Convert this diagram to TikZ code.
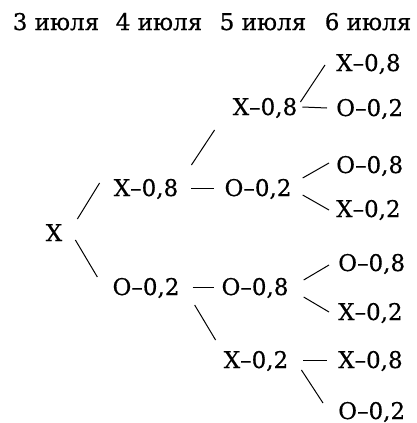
\documentclass[tikz,border=0pt]{standalone}
\usepackage{fontspec}
\setmainfont{DejaVu Serif}[FakeBold=0.5]

\begin{document}
\begin{tikzpicture}[x=1pt,y=-1pt,
  lbl/.style={inner sep=0pt,text height=16pt,text depth=0pt,font=\fontsize{23}{27}\selectfont},
  day/.style={inner sep=0pt,anchor=base,font=\fontsize{23}{27}\selectfont},
  br/.style={line width=1pt}]
\useasboundingbox (0,0) rectangle (417,423);
% days
\node[day] (d3) at (56,30) {3 июля};
\node[day] (d4) at (159,30) {4 июля};
\node[day] (d5) at (263,30) {5 июля};
\node[day] (d6) at (368,30) {6 июля};
% tree
\node[lbl] (root) at (54,233) {Х};
\node[lbl] (xa) at (146,188) {Х--0,8};
\node[lbl] (ob) at (146,287) {О--0,2};
\node[lbl] (xaa) at (265,107) {Х--0,8};
\node[lbl] (xao) at (258,188) {О--0,2};
\node[lbl] (obo) at (255,287) {О--0,8};
\node[lbl] (obx) at (256,360) {Х--0,2};
\node[lbl,anchor=west] (xaax) at (336,63) {Х--0,8};
\node[lbl,anchor=west] (xaao) at (336,108) {О--0,2};
\node[lbl,anchor=west] (xaoo) at (336,165) {О--0,8};
\node[lbl,anchor=west] (xaox) at (336,209) {Х--0,2};
\node[lbl,anchor=west] (oboo) at (338,263) {О--0,8};
\node[lbl,anchor=west] (obox) at (338,312) {Х--0,2};
\node[lbl,anchor=west] (obxx) at (338,360) {Х--0,8};
\node[lbl,anchor=west] (obxo) at (338,411) {О--0,2};
% branches
\draw[br] ([shift={(15,-14)}]root.east) -- ([shift={(-14,-5)}]xa.west);
\draw[br] ([shift={(13,7)}]root.east) -- ([shift={(-15,-10)}]ob.west);
\draw[br] ([shift={(13,0)}]xa.east) -- ([shift={(-10,0)}]xao.west);
\draw[br] ([shift={(13,-23)}]xa.east) -- ([shift={(-18,23)}]xaa.west);
\draw[br] ([shift={(13,0)}]ob.east) -- ([shift={(-7,0)}]obo.west);
\draw[br] ([shift={(15,18)}]ob.east) -- ([shift={(-8,-20)}]obx.west);
\draw[br] ([shift={(3,-5)}]xaa.east) -- ([shift={(-11,2)}]xaax.west);
\draw[br] ([shift={(5,0)}]xaa.east) -- ([shift={(-9,0)}]xaao.west);
\draw[br] ([shift={(11,-10)}]xao.east) -- ([shift={(-7,-2)}]xaoo.west);
\draw[br] ([shift={(11,7)}]xao.east) -- ([shift={(-7,1)}]xaox.west);
\draw[br] ([shift={(15,-7)}]obo.east) -- ([shift={(-9,2)}]oboo.west);
\draw[br] ([shift={(15,10)}]obo.east) -- ([shift={(-9,0)}]obox.west);
\draw[br] ([shift={(15,0)}]obx.east) -- ([shift={(-11,0)}]obxx.west);
\draw[br] ([shift={(13,10)}]obx.east) -- ([shift={(-15,-8)}]obxo.west);
\end{tikzpicture}
\end{document}
